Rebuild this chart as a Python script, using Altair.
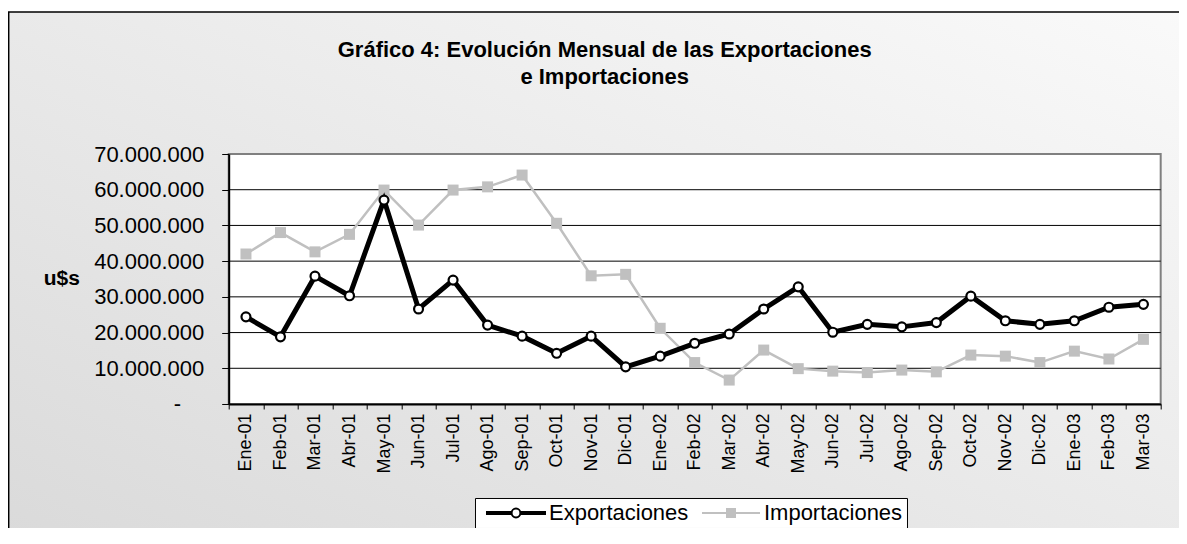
import altair as alt
import pandas as pd

months = ["Ene-01", "Feb-01", "Mar-01", "Abr-01", "May-01", "Jun-01", "Jul-01", "Ago-01",
          "Sep-01", "Oct-01", "Nov-01", "Dic-01", "Ene-02", "Feb-02", "Mar-02", "Abr-02",
          "May-02", "Jun-02", "Jul-02", "Ago-02", "Sep-02", "Oct-02", "Nov-02", "Dic-02",
          "Ene-03", "Feb-03", "Mar-03"]
exportaciones = [24400000, 18800000, 35800000, 30300000, 57100000, 26600000, 34700000, 22100000,
                 19000000, 14200000, 19000000, 10400000, 13400000, 17000000, 19600000, 26600000,
                 32800000, 20100000, 22300000, 21600000, 22800000, 30200000, 23300000, 22300000,
                 23300000, 27100000, 27900000]
importaciones = [42000000, 48000000, 42600000, 47500000, 59900000, 50100000, 59900000, 60800000,
                 64100000, 50600000, 35900000, 36300000, 21200000, 11600000, 6700000, 15100000,
                 9900000, 9200000, 8800000, 9500000, 9000000, 13700000, 13400000, 11600000,
                 14800000, 12600000, 18100000]
series = ["Exportaciones", "Importaciones"]
y_ticks = [0, 10000000, 20000000, 30000000, 40000000, 50000000, 60000000, 70000000]
grid_values = [10000000, 20000000, 30000000, 40000000, 50000000, 60000000]

df = pd.DataFrame({
    "mes": months * 2,
    "serie": ["Exportaciones"] * len(months) + ["Importaciones"] * len(months),
    "valor": exportaciones + importaciones,
})
grid_df = pd.DataFrame({"valor": grid_values})
one_row = alt.Data(values=[{"k": 1}])

W, H = 932, 250
FONT = "Liberation Sans"

x_enc = alt.X("mes:N", sort=months,
              scale=alt.Scale(type="band", domain=months, paddingInner=0, paddingOuter=0),
              axis=alt.Axis(title=None, labelAngle=270, labelFont=FONT, labelFontSize=18,
                            labelColor="black", labelPadding=4, tickSize=5, tickColor="black",
                            tickBand="extent", domainColor="black", domainWidth=2, grid=False,
                            labelOverlap=False, zindex=1))


def y_enc():
    return alt.Y("valor:Q",
                 scale=alt.Scale(domain=[0, 70000000], nice=False, zero=True),
                 axis=alt.Axis(values=y_ticks, title="u$s", titleAngle=0, titleX=-167.4, titleY=125,
                               titleAlign="center", titleBaseline="middle", titleFont=FONT,
                               titleFontSize=21, titleFontWeight="bold", titleColor="black",
                               labelExpr="datum.value == 0 ? '-' : format(datum.value / 1000000, 'd') + '.000.000'",
                               labelFont=FONT, labelFontSize=22, labelColor="black",
                               labelPadding={"condition": {"test": "datum.value == 0", "value": 41},
                                             "value": 18},
                               tickSize=7, tickColor="black", domainColor="black", domainWidth=2,
                               grid=False, zindex=1))


bg = alt.Chart(one_row).mark_rect(
    stroke="black", strokeWidth=1.5,
    color=alt.LinearGradient(gradient="linear",
                             stops=[alt.GradientStop(color="#d9d9d9", offset=0),
                                    alt.GradientStop(color="#fafafa", offset=1)],
                             x1=0, y1=1, x2=1, y2=0),
).encode(x=alt.value(-220), x2=alt.value(980), y=alt.value(-142), y2=alt.value(420))

plot_bg = alt.Chart(one_row).mark_rect(fill="white", stroke="#808080", strokeWidth=2).encode(
    x=alt.value(0), x2=alt.value(W), y=alt.value(0), y2=alt.value(H))

grid = alt.Chart(grid_df).mark_rule(color="black", strokeWidth=1).encode(y=y_enc())

imp = df[df.serie == "Importaciones"]
exp_ = df[df.serie == "Exportaciones"]

imp_line = alt.Chart(imp).mark_line(color="#c0c0c0", strokeWidth=2.5).encode(x=x_enc, y=y_enc())
imp_pts = alt.Chart(imp).mark_point(shape="square", filled=True, color="#c0c0c0", size=121,
                                    opacity=1).encode(x=x_enc, y=y_enc())
exp_line = alt.Chart(exp_).mark_line(color="black", strokeWidth=5).encode(x=x_enc, y=y_enc())
exp_pts = alt.Chart(exp_).mark_point(shape="circle", filled=True, fill="white", stroke="black",
                                     strokeWidth=2.2, size=80, opacity=1).encode(x=x_enc, y=y_enc())

path_exp = ("M-0.75,-0.25L5.4,-0.25L5.4,0.25L-0.75,0.25Z"
            "M7.6,-0.25L13.75,-0.25L13.75,0.25L7.6,0.25Z"
            "M7.6,0A1.1,1.1,0,1,1,5.4,0A1.1,1.1,0,1,1,7.6,0Z")
path_imp = "M-0.75,0L13.75,0M5.5,-1L7.5,-1L7.5,1L5.5,1Z"

leg = dict(orient="none", legendX=246.3, legendY=344, direction="horizontal", title=None,
           fillColor="white", strokeColor="black", padding=4, symbolSize=64,
           symbolStrokeWidth=2, labelOffset=48, labelFont=FONT, labelFontSize=22,
           labelColor="black", columnPadding=5, labelLimit=400)

legend_layer = alt.Chart(df).transform_filter(alt.datum.valor < 0).mark_point(
    filled=True, opacity=1, size=64, strokeWidth=2).encode(
    shape=alt.Shape("serie:N", scale=alt.Scale(domain=series, range=[path_exp, path_imp]),
                    legend=alt.Legend(**leg)),
    fill=alt.Fill("serie:N", scale=alt.Scale(domain=series, range=["white", "#c0c0c0"]),
                  legend=alt.Legend(**leg)),
    stroke=alt.Stroke("serie:N", scale=alt.Scale(domain=series, range=["black", "#c0c0c0"]),
                      legend=alt.Legend(**leg)),
)

chart = alt.layer(bg, plot_bg, grid, imp_line, imp_pts, exp_line, exp_pts, legend_layer).properties(
    width=W, height=H,
    title=alt.TitleParams(text=["Gráfico 4: Evolución Mensual de las Exportaciones", "e Importaciones"],
                          font=FONT, fontSize=22, fontWeight="bold", color="black",
                          anchor="middle", frame="group", dx=-90, offset=-78, lineHeight=27.6),
    padding={"left": 220.7, "top": 146, "right": 18, "bottom": 124},
    autosize=alt.AutoSizeParams(type="none"),
).configure(background="white").configure_view(strokeOpacity=0)

chart.save("out.html", embed_options={"renderer": "svg", "actions": False})
